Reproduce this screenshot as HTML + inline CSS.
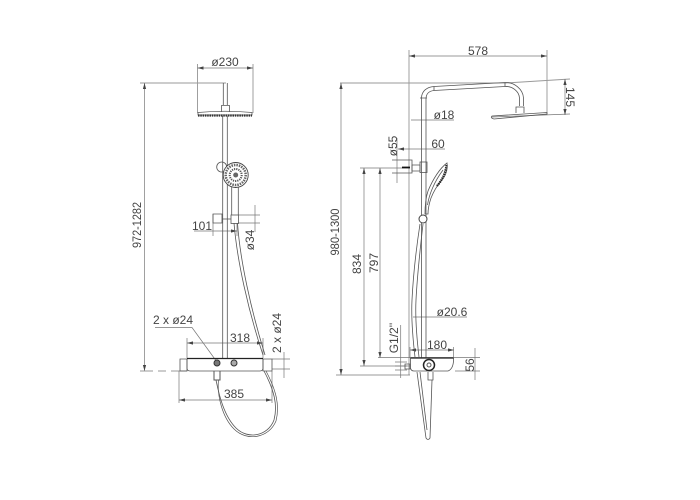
<!DOCTYPE html>
<html><head><meta charset="utf-8"><style>
html,body{margin:0;padding:0;background:#fff}
svg{display:block}
text{font-family:"Liberation Sans",sans-serif;font-size:12px;fill:#444;text-anchor:middle}
.d{stroke:#777;stroke-width:.7;fill:none}
.l{stroke:#555;stroke-width:.8;fill:none}
</style></head><body>
<svg width="700" height="500" viewBox="0 0 700 500" xmlns="http://www.w3.org/2000/svg">
<defs><marker id="a" viewBox="0 0 6 4" refX="6" refY="2" markerWidth="6" markerHeight="4" orient="auto-start-reverse" markerUnits="userSpaceOnUse"><path d="M0 .4L6 2L0 3.6z" fill="#444"/></marker></defs>

<!-- LEFT VIEW dims -->
<g class="d">
<path d="M197.500 64V113M253 64V113"/>
<path d="M197.500 68H253" marker-start="url(#a)" marker-end="url(#a)"/>
<path d="M140 83H226" stroke-width="1" stroke="#999"/>
<path d="M144.500 83V371" marker-start="url(#a)" marker-end="url(#a)"/>
<path d="M140 371H153M158 371H166M171 371H187" stroke="#999" stroke-width="1"/>
<path d="M213 214V236M237 223V236"/>
<path d="M194 231H237" marker-end="url(#a)"/>
<path d="M255 205V232"/>
<path d="M238 215H260M238 223H260"/>
<path d="M155 327.500H192L217 362"/>
<path d="M187 343H263" marker-start="url(#a)" marker-end="url(#a)"/>
<path d="M187 338V358M263 338V358"/>
<path d="M179 371V403M272 371V403"/>
<path d="M179 400H272" marker-start="url(#a)" marker-end="url(#a)"/>
<path d="M272 359H290M272 369H290"/>
<path d="M284 352V378"/>
</g>
<text x="225" y="66">ø230</text>
<text transform="translate(141 225) rotate(-90)" textLength="46" lengthAdjust="spacingAndGlyphs">972-1282</text>
<text x="202" y="230">101</text>
<text transform="translate(254 240) rotate(-90)">ø34</text>
<text x="173" y="324">2 x ø24</text>
<text x="240" y="342">318</text>
<text x="234" y="398">385</text>
<text transform="translate(281 333) rotate(-90)">2 x ø24</text>

<!-- LEFT VIEW shower -->
<g class="l">
<path d="M223.300 83V105M227.300 83V105"/>
<path d="M221.500 112V105.500H229.500V112"/>
<path d="M198 112.500Q225 110 252 112.500V115H198Z"/>
<path d="M222.700 116V358M227.300 116V358"/>
<path d="M231.700 186V215M238.300 186V215"/>
<circle cx="221.700" cy="167" r="5"/>
<path d="M213 214H222V223H213Z"/>
<rect x="231" y="215" width="7.500" height="8.500"/>
<path d="M222 219H231"/>
<path d="M234 223C237 260 248 310 263 355M237.500 223C240 260 251 310 265 355"/>
<path d="M264 371C274 390 278 405 274 420C268 436 248 440 236 428C224 416 219 395 216 380"/>
<path d="M266 371C276 390 280 405 276 421C269 438 247 442 234 429C222 417 217 395 218.500 380" stroke-width=".7"/>
</g>
<path d="M198 115.500H252" stroke="#333" stroke-width="2.200" stroke-dasharray="1.500 .8" fill="none"/>
<circle cx="235.700" cy="175" r="12.500" fill="#fff" stroke="#444" stroke-width=".9"/>
<circle cx="235.700" cy="175" r="10" fill="none" stroke="#666" stroke-width="2.500" stroke-dasharray="1.500 1"/>
<circle cx="235.700" cy="175" r="6" fill="none" stroke="#555" stroke-width="2" stroke-dasharray="1.200 1"/>
<circle cx="235.700" cy="175" r="2.500" fill="#666"/>
<g class="l">
<path d="M180 359H187V371H180Z"/>
<path d="M263 359H272V371H263Z"/>
<path d="M187 358.500V368Q187 371 190 371H260Q263 371 263 368V358.500"/>
<path d="M214 371V380H220V371" stroke-width="1"/>
</g>
<path d="M187 358.500H263" stroke="#222" stroke-width="1.300"/>
<circle cx="217" cy="363" r="3" fill="#777" stroke="#333"/>
<circle cx="234" cy="363" r="3" fill="#aaa" stroke="#333"/>

<!-- RIGHT VIEW dims -->
<g class="d">
<path d="M409 50V375"/>
<path d="M547 50V115"/>
<path d="M409 56H547" marker-start="url(#a)" marker-end="url(#a)"/>
<path d="M340 83H505L570 79" stroke="#999" stroke-width="1"/>
<path d="M492 117L570 114"/>
<path d="M565 79V115" marker-start="url(#a)" marker-end="url(#a)"/>
<path d="M411 120H454"/>
<path d="M341 83V375" marker-start="url(#a)" marker-end="url(#a)"/>
<path d="M336 375H410"/>
<path d="M360 168H402" stroke="#999" stroke-width="1"/>
<path d="M364 168V366" marker-start="url(#a)" marker-end="url(#a)"/>
<path d="M380 168V358" marker-start="url(#a)" marker-end="url(#a)"/>
<path d="M360 366H410M378 357.500H480M455 371H480"/>
<path d="M397 138V183"/>
<path d="M398 149H445" marker-start="url(#a)"/>
<path d="M413 317H467"/>
<path d="M410 350H454" marker-start="url(#a)" marker-end="url(#a)"/>
<path d="M410 347V358M453.500 347V358"/>
<path d="M475 348V380"/>
<path d="M400.700 325V378"/>
<path d="M395 362H407M395 366H407M395 370H407"/>
</g>
<text x="478" y="55">578</text>
<text transform="translate(566 97) rotate(90)">145</text>
<text x="444" y="119">ø18</text>
<text transform="translate(397 146) rotate(-90)">ø55</text>
<text x="438" y="148">60</text>
<text transform="translate(339 232) rotate(-90)" textLength="47" lengthAdjust="spacingAndGlyphs">980-1300</text>
<text transform="translate(361 264) rotate(-90)">834</text>
<text transform="translate(378 263) rotate(-90)">797</text>
<text x="452" y="316">ø20.6</text>
<text x="437" y="349">180</text>
<text transform="translate(398 338) rotate(-90)">G1/2''</text>
<text transform="translate(474 365) rotate(-90)">56</text>

<!-- RIGHT VIEW shower -->
<g class="l">
<path d="M421.500 358V98C421.500 91 427 87 434 86.500L505 82.500C514 82 523 89 523.500 98V106"/>
<path d="M426 358V99C426 94 429 91 434 90.500L505 86.500C512 86 519 91 519.500 98V106"/>
<path d="M434 86.500V90.500M505 82.500V86.500M420 98H427"/>
<path d="M516 113V107H524V113"/>
<path d="M492 116L547 112.500V114L494 119Q490 118 492 116Z"/>
<path d="M392 160H412V173H392M412 160V173"/>
<path d="M412 165H420V171H412Z"/>
<rect x="420" y="162" width="7" height="10.500"/>
<path d="M425 214C425 203 426 197 428 191C433 179 440 168 447 163C448 169 446 176 441 181C436 187 433 193 431 198C429 204 428 209 428 214Z"/>
<path d="M427.500 205C429 195 434 182 443 170"/>
<path d="M420 224C416 250 413 280 412 300C411 320 413 340 415 357"/>
<path d="M423 224C420 250 417 280 416 300C415 320 417 340 419 357"/>
<path d="M417 372L426 438Q428 441 430 438L432 380"/>
<path d="M420 372L427 430"/>
<path d="M405 364H410V369H405Z"/>
<path d="M410.500 358V368Q411 371 414 371H448Q453 369 453.500 361V358"/>
<path d="M428 372V380H433V372"/>
</g>
<path d="M437 186C441 181 445 176 446.500 165" stroke="#222" stroke-width="2.200" fill="none" stroke-dasharray="1.500 .7"/>
<path d="M402 167.500H410" stroke="#111" stroke-width="1.800"/>
<circle cx="423" cy="219" r="4" fill="#fff" stroke="#444"/>
<path d="M410.500 358H453.500" stroke="#222" stroke-width="1.300"/>
<circle cx="429" cy="365" r="5.500" fill="#fff" stroke="#222" stroke-width="1.500"/>
<circle cx="429" cy="365" r="2" fill="none" stroke="#555"/>
</svg>
</body></html>
